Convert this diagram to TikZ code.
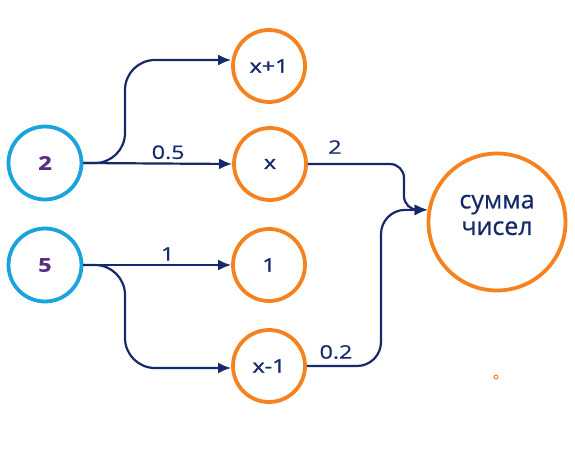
\documentclass[tikz,border=0pt]{standalone}
\usepackage{fontspec}
\setmainfont{Open Sans}
\newfontfamily\widefont[FakeStretch=1.25, FakeBold=0.5]{Open Sans}
\newfontfamily\wideheavy[FakeStretch=1.25, FakeBold=1.4]{Open Sans}
\newfontfamily\sumfont[FakeBold=0.6]{Open Sans}
\usepackage{tikz}
\usetikzlibrary{arrows.meta}
\usetikzlibrary{positioning}
\definecolor{inblue}{HTML}{1BA3DE}
\definecolor{neurorange}{HTML}{F5821F}
\definecolor{linknavy}{HTML}{16296B}
\definecolor{valpurple}{HTML}{5A2D82}
\tikzset{inp/.style = {draw=inblue, line width=3.8pt, circle, minimum size=73pt,
                       inner sep=0, text=valpurple, font=\widefont\fontsize{19}{22}\selectfont\bfseries}}
\tikzset{neur/.style = {draw=neurorange, line width=3.8pt, circle, minimum size=72pt,
                        inner sep=0, text=linknavy, font=\wideheavy\fontsize{18.6}{22}\selectfont}}
\tikzset{link/.style = {draw=linknavy, line width=2.2pt, rounded corners=30pt,
                        -{Latex[length=13pt,width=11pt]}}}
\tikzset{wt/.style = {text=linknavy, font=\widefont\fontsize{18.6}{22}\selectfont}}

\begin{document}
\begin{tikzpicture}[x=1pt, y=-1pt]
    \useasboundingbox (0, 0) rectangle (575, 473);
    \node [inp] (two) at (45, 163) {2};
    \node [inp] (five) at (45, 265) {5};
    \node [neur] (xp) at (269, 66) {x+1};
    \node [neur] (xx) at (270, 164) {x};
    \node [neur] (one) at (269, 265) {1};
    \node [neur] (xm) at (269, 366) {x-1};
    \node [neur, minimum size=137pt] (sum) at (497, 222) {};
    \node [text=linknavy, font=\sumfont\fontsize{25}{26.5}\selectfont, align=center]
        (sumtxt) at ([yshift=7pt]sum.center) {сумма\\чисел};

    \coordinate (ka) at (125, 60);
    \coordinate (kb) at (125, 368);
    \coordinate (tip) at (sum.170);
    \coordinate (ja) at (404, 210);
    \coordinate (jb) at (381, 210);

    \draw [link] (two.east) -| (ka) -- (xp.west |- ka);
    \draw [link] (two.east) -- (xx.west) node [wt, pos=0.57, above] {0.5};
    \draw [link] (five.east) -- (one.west) node [wt, pos=0.57, above] {1};
    \draw [link] (five.east) -| (kb) -- (xm.west |- kb);
    \draw [link, rounded corners=14pt] (xx.east) -| (ja) -- (tip);
    \draw [link, rounded corners=24pt] (xm.east) -| (jb) -- (tip);
    \node [wt] (wx) at (335, 147) {2};
    \node [wt] (wxm) at (336, 352) {0.2};

    \draw [neurorange, line width=1pt] (496, 377) circle (2);
\end{tikzpicture}
\end{document}
